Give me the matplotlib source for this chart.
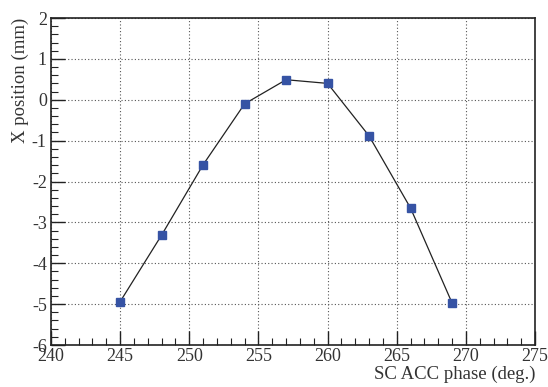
import matplotlib
matplotlib.use("Agg")
import matplotlib.pyplot as plt
from matplotlib.ticker import MultipleLocator

phase = [245, 248, 251, 254, 257, 260, 263, 266, 269]
xpos = [-4.94, -3.31, -1.59, -0.10, 0.49, 0.40, -0.885, -2.65, -4.97]

plt.rcParams['font.family'] = ['Liberation Serif', 'DejaVu Serif']
plt.rcParams['axes.unicode_minus'] = False

fig = plt.figure(figsize=(5.48, 3.87), dpi=100)
ax = fig.add_axes([51/548, 1-345/387, (535-51)/548, (345-18)/387])

ax.plot(phase, xpos, color='#222222', lw=0.9, marker='s', ms=6,
        mfc='#3653a4', mec='#3653a4', zorder=3)

ax.set_xlim(240, 275)
ax.set_ylim(-6, 2)
ax.xaxis.set_major_locator(MultipleLocator(5))
ax.xaxis.set_minor_locator(MultipleLocator(1))
ax.yaxis.set_major_locator(MultipleLocator(1))
ax.yaxis.set_minor_locator(MultipleLocator(0.2))
ax.tick_params(which='both', direction='in', colors='#222222', labelcolor='#333333', labelsize=13)
ax.tick_params(which='major', length=10, width=1.0)
ax.tick_params(which='minor', length=5, width=0.8)
ax.tick_params(axis='y', pad=3)
ax.tick_params(axis='x', pad=2)
ax.grid(True, which='major', linestyle=(0, (1, 2)), color='#555555', lw=0.8)
for s in ax.spines.values():
    s.set_linewidth(1.2)
    s.set_color('#222222')

ax.set_xlabel('SC ACC phase (deg.)', fontsize=13.5, color='#333333', loc='right', labelpad=1)
ax.set_ylabel('X position (mm)', fontsize=13.5, color='#333333', loc='top', labelpad=2)

fig.savefig('out.png', dpi=100)
